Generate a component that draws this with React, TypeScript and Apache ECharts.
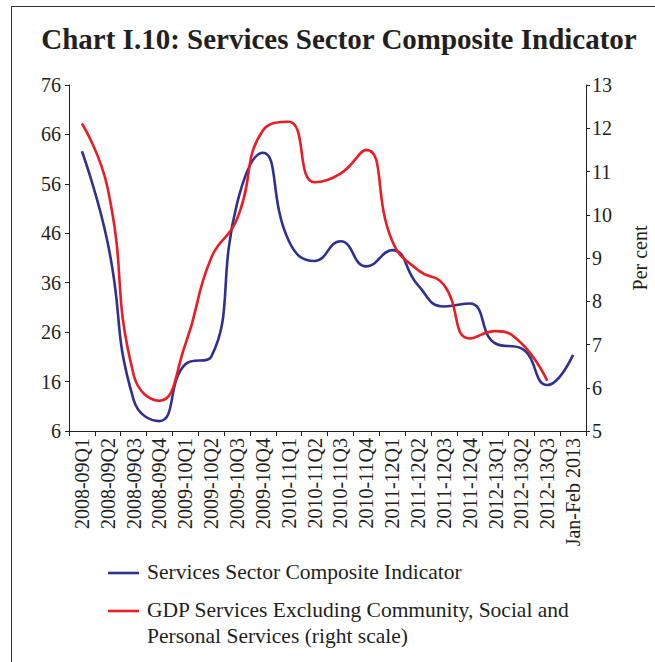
import React, { useEffect, useRef } from "react";
import * as echarts from "echarts";

const categories = [
  "2008-09Q1", "2008-09Q2", "2008-09Q3", "2008-09Q4",
  "2009-10Q1", "2009-10Q2", "2009-10Q3", "2009-10Q4",
  "2010-11Q1", "2010-11Q2", "2010-11Q3", "2010-11Q4",
  "2011-12Q1", "2011-12Q2", "2011-12Q3", "2011-12Q4",
  "2012-13Q1", "2012-13Q2", "2012-13Q3", "Jan-Feb 2013",
];

const compositeIndicator = [
  62.6, 44, 12.3, 8.0, 19.5, 21, 52, 62.3, 44.5, 40.4,
  44.4, 39.3, 42.6, 35.5, 31.2, 31.8, 23.7, 22.7, 15.3, 21.4,
];

const gdpServices = [
  12.11, 10.6, 6.3, 5.7, 7.0, 9.0, 9.9, 11.95, 12.15, 10.75,
  10.95, 11.5, 9.4, 8.72, 8.38, 7.14, 7.31, 7.03, 6.16, null,
];

const seriesNames = [
  "Services Sector Composite Indicator",
  "GDP Services Excluding Community, Social and\nPersonal Services (right scale)",
];

const titleText = "Chart I.10: Services Sector Composite Indicator";
const rightAxisName = "Per cent";

const BLUE = "#2E3192";
const RED = "#ED1C24";
const INK = "#231F20";
const FONT = "Liberation Serif";

export default function App() {
  const ref = useRef<HTMLDivElement>(null);

  useEffect(() => {
    if (!ref.current) return;
    const chart = echarts.init(ref.current, undefined, { renderer: "svg" });
    chart.setOption({
      animation: false,
      backgroundColor: "#ffffff",
      grid: { left: 69, right: 69, top: 85, bottom: 231, containLabel: false },
      xAxis: {
        type: "category",
        data: categories,
        boundaryGap: true,
        axisLine: { lineStyle: { color: INK, width: 1 } },
        axisTick: { show: true, alignWithLabel: false, interval: 0, length: 5, lineStyle: { color: INK } },
        axisLabel: {
          interval: 0,
          rotate: 90,
          margin: 7,
          color: INK,
          fontFamily: FONT,
          fontSize: 20,
        },
        splitLine: { show: false },
      },
      yAxis: [
        {
          type: "value",
          min: 6,
          max: 76,
          interval: 10,
          position: "left",
          axisLine: { show: true, lineStyle: { color: INK } },
          axisTick: { show: true, length: 4, lineStyle: { color: INK } },
          axisLabel: { color: INK, fontFamily: FONT, fontSize: 20, margin: 8 },
          splitLine: { show: false },
        },
        {
          type: "value",
          min: 5,
          max: 13,
          interval: 1,
          position: "right",
          axisLine: { show: true, lineStyle: { color: INK } },
          axisTick: { show: true, length: 4, lineStyle: { color: INK } },
          axisLabel: { color: INK, fontFamily: FONT, fontSize: 20, margin: 6 },
          splitLine: { show: false },
        },
      ],
      series: [
        {
          name: seriesNames[0],
          type: "line",
          yAxisIndex: 0,
          data: compositeIndicator,
          smooth: 0.5,
          symbol: "none",
          lineStyle: { color: BLUE, width: 2.6 },
          itemStyle: { color: BLUE },
          z: 3,
        },
        {
          name: seriesNames[1],
          type: "line",
          yAxisIndex: 1,
          data: gdpServices,
          smooth: 0.5,
          symbol: "none",
          lineStyle: { color: RED, width: 2.6 },
          itemStyle: { color: RED },
          z: 4,
        },
      ],
      graphic: [
        { type: "line", shape: { x1: 11, y1: 6.5, x2: 655, y2: 6.5 }, style: { stroke: "#333", lineWidth: 1 } },
        { type: "line", shape: { x1: 11.5, y1: 6, x2: 11.5, y2: 662 }, style: { stroke: "#333", lineWidth: 1 } },
        {
          type: "text",
          x: 339,
          y: 39,
          style: {
            text: titleText,
            align: "center",
            verticalAlign: "middle",
            font: `bold 29px "${FONT}"`,
            fill: INK,
          },
        },
        {
          type: "text",
          x: 640,
          y: 258,
          rotation: Math.PI / 2,
          style: {
            text: rightAxisName,
            align: "center",
            verticalAlign: "middle",
            font: `20px "${FONT}"`,
            fill: INK,
          },
        },
        { type: "line", shape: { x1: 108, y1: 573, x2: 139, y2: 573 }, style: { stroke: BLUE, lineWidth: 2.6 } },
        {
          type: "text",
          x: 147,
          y: 572,
          style: { text: seriesNames[0], verticalAlign: "middle", font: `21.5px "${FONT}"`, fill: INK },
        },
        { type: "line", shape: { x1: 108, y1: 611, x2: 139, y2: 611 }, style: { stroke: RED, lineWidth: 2.6 } },
        {
          type: "text",
          x: 147,
          y: 597,
          style: { text: seriesNames[1], verticalAlign: "top", lineHeight: 26, font: `21.5px "${FONT}"`, fill: INK },
        },
      ],
    });
    return () => chart.dispose();
  }, []);

  return (
    <div
      ref={ref}
      style={{ position: "fixed", left: 0, top: 0, width: 655, height: 662, background: "#fff" }}
    />
  );
}
